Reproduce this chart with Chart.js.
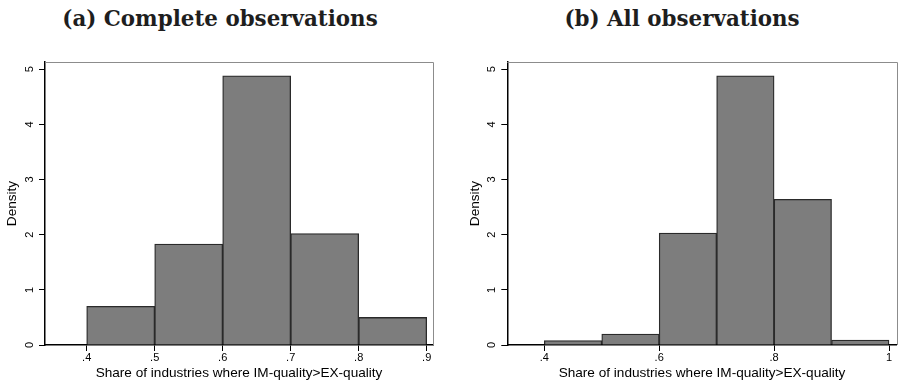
<!DOCTYPE html>
<html>
<head>
<meta charset="utf-8">
<script src="https://cdn.jsdelivr.net/npm/chart.js@4.4.1/dist/chart.umd.min.js"></script>
<style>
  html, body { margin: 0; padding: 0; background: #fff; }
  #page { position: relative; width: 898px; height: 386px; overflow: hidden; }
  .panel { position: absolute; top: 0; }
  .caption {
    position: absolute; top: 8px; width: 400px; text-align: center;
    font: bold 21.4px "DejaVu Serif", serif; line-height: 21px; color: #1e1e1e;
  }
</style>
</head>
<body>
<div id="page">
  <div class="caption" style="left:20px">(a) Complete observations</div>
  <div class="caption" style="left:482px">(b) All observations</div>
  <canvas id="histComplete" class="panel" style="left:0" width="449" height="386"></canvas>
  <canvas id="histAll" class="panel" style="left:449px" width="449" height="386"></canvas>
</div>
<script>
// bin edges and densities of the two histograms
const binEdgesA = [0.4, 0.5, 0.6, 0.7, 0.8, 0.9];
const densityA = [0.70, 1.83, 4.88, 2.02, 0.50];
const binEdgesB = [0.4, 0.5, 0.6, 0.7, 0.8, 0.9, 1.0];
const densityB = [0.08, 0.20, 2.03, 4.88, 2.64, 0.09];

const xTicksA = [0.4, 0.5, 0.6, 0.7, 0.8, 0.9];
const xTicksB = [0.4, 0.6, 0.8, 1.0];
const yTicks = [0, 1, 2, 3, 4, 5];

const xTitle = 'Share of industries where IM-quality>EX-quality';
const yTitle = 'Density';

const sans = 'Liberation Sans, Arial, sans-serif';

// light box on the top and right of the plot region
const plotFrame = {
  id: 'plotFrame',
  afterDraw(chart) {
    const { ctx, chartArea: a } = chart;
    ctx.save();
    ctx.strokeStyle = '#8c8c8c';
    ctx.lineWidth = 1;
    ctx.beginPath();
    ctx.moveTo(a.left, Math.round(a.top) + 0.5);
    ctx.lineTo(Math.round(a.right) + 0.5, Math.round(a.top) + 0.5);
    ctx.lineTo(Math.round(a.right) + 0.5, a.bottom);
    ctx.stroke();
    ctx.restore();
  }
};

function shortLabel(v) {
  return String(+v.toFixed(1)).replace(/^0\./, '.');
}

function renderHistogram(id, edges, density, xTicks, xRange, pad, yWidth) {
  const points = density.map((d, i) => ({ x: (edges[i] + edges[i + 1]) / 2, y: d }));

  return new Chart(document.getElementById(id), {
    type: 'bar',
    data: {
      datasets: [{
        data: points,
        backgroundColor: '#7d7d7d',
        borderColor: '#2a2a2a',
        borderWidth: 1.3,
        barPercentage: 1,
        categoryPercentage: 1
      }]
    },
    options: {
      responsive: false,
      animation: false,
      layout: { padding: pad },
      plugins: {
        legend: { display: false },
        tooltip: { enabled: false }
      },
      scales: {
        x: {
          type: 'linear',
          offset: false,
          min: xRange[0],
          max: xRange[1],
          afterBuildTicks: s => { s.ticks = xTicks.map(v => ({ value: v })); },
          afterFit: s => { s.height = 41; },
          grid: { display: true, offset: false, drawOnChartArea: false, tickLength: 6, color: '#000' },
          border: { display: true, color: '#000', width: 1.5 },
          ticks: {
            autoSkip: false, maxRotation: 0, padding: 0.5, color: '#000',
            font: { family: sans, size: 11 },
            callback: v => shortLabel(v)
          },
          title: {
            display: true, text: xTitle, color: '#000',
            font: { family: sans, size: 13.6 },
            padding: { top: 0, bottom: 4.4 }
          }
        },
        y: {
          min: 0,
          max: 5.13,
          afterBuildTicks: s => { s.ticks = yTicks.map(v => ({ value: v })); },
          afterFit: s => { s.width = yWidth; },
          grid: { display: true, drawOnChartArea: false, tickLength: 6, color: '#000' },
          border: { display: true, color: '#000', width: 1.5 },
          ticks: {
            autoSkip: false, minRotation: 90, maxRotation: 90, crossAlign: 'center',
            padding: 6, color: '#000',
            font: { family: sans, size: 11 },
            callback: v => String(v)
          },
          title: {
            display: true, text: yTitle, color: '#000',
            font: { family: sans, size: 13.6 },
            padding: { top: 3.6, bottom: 0 }
          }
        }
      }
    },
    plugins: [plotFrame]
  });
}

renderHistogram('histComplete', binEdgesA, densityA, xTicksA, [0.3387, 0.9093],
  { left: 0, right: 16, top: 62, bottom: 0 }, 45);
renderHistogram('histAll', binEdgesB, densityB, xTicksB, [0.3356, 1.0134],
  { left: 14, right: 1.3, top: 62, bottom: 0 }, 44.3);
</script>
</body>
</html>
